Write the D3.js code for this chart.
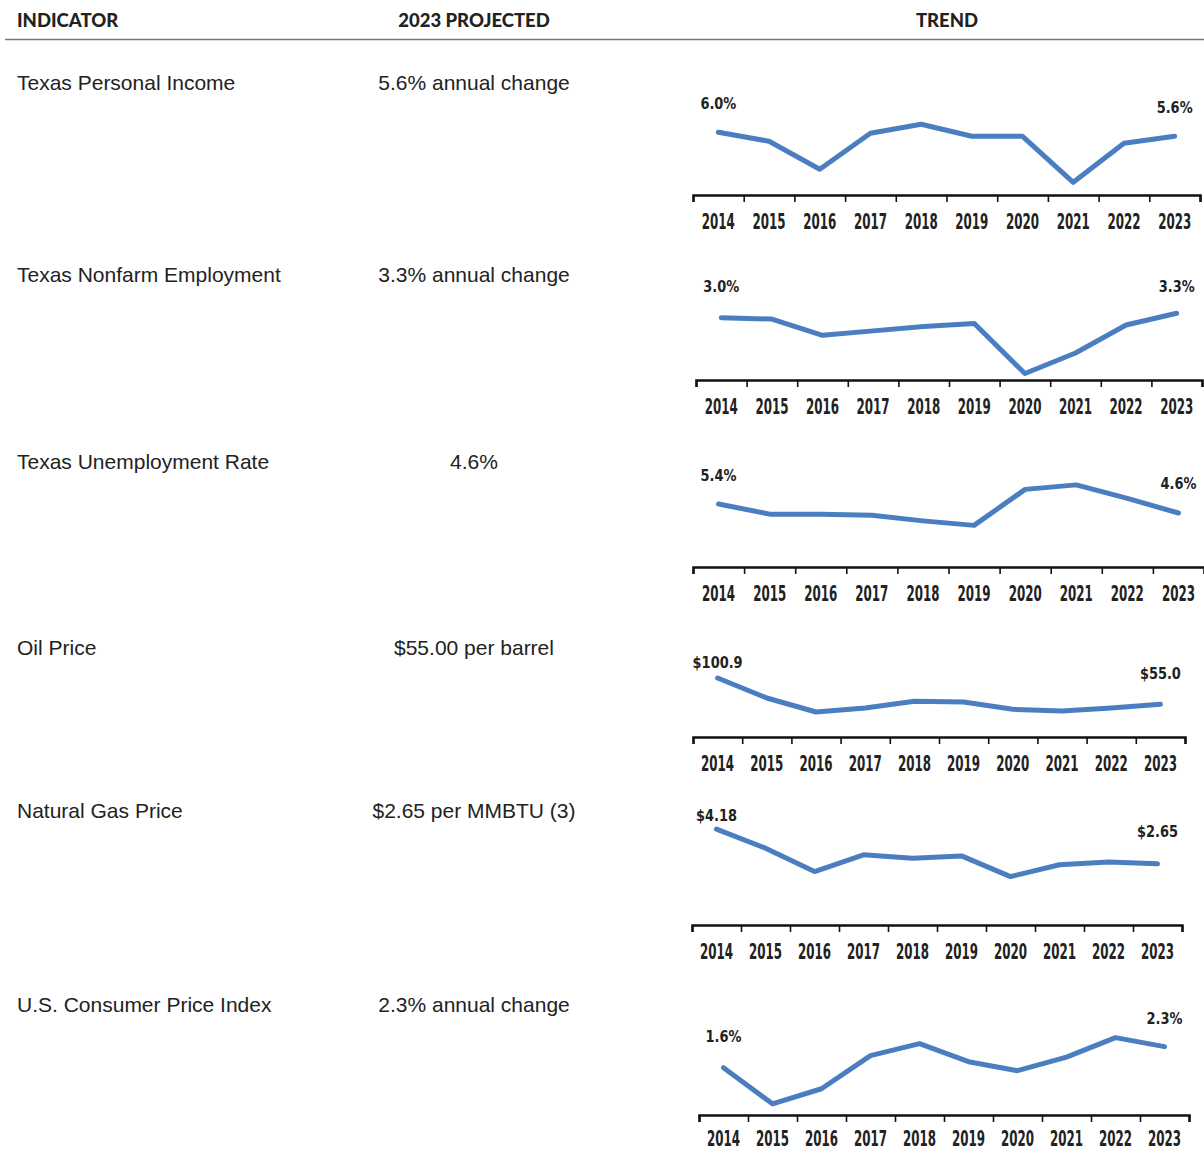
<!DOCTYPE html>
<html>
<head>
<meta charset="utf-8">
<script src="https://cdn.jsdelivr.net/npm/d3@7"></script>
<style>
  html, body { margin: 0; padding: 0; background: #fff; }
  .head { font-family: Lato, "Open Sans", sans-serif; font-weight: 900; font-size: 18.5px; fill: #222; }
  .row-label { font-family: "Liberation Sans", Arial, sans-serif; font-size: 21px; fill: #222; }
  .spark-axis text { font-family: "DejaVu Sans Condensed", "DejaVu Sans", sans-serif; font-weight: 700; font-size: 22px; fill: #222; }
  .spark-value text { font-family: "DejaVu Sans Condensed", "DejaVu Sans", sans-serif; font-weight: 700; font-size: 16px; fill: #222; }
</style>
</head>
<body>
<div id="chart"></div>
<script>
const years = ["2014", "2015", "2016", "2017", "2018", "2019", "2020", "2021", "2022", "2023"];

const indicators = [
  "Texas Personal Income",
  "Texas Nonfarm Employment",
  "Texas Unemployment Rate",
  "Oil Price",
  "Natural Gas Price",
  "U.S. Consumer Price Index"
];

const projected = [
  "5.6% annual change",
  "3.3% annual change",
  "4.6%",
  "$55.00 per barrel",
  "$2.65 per MMBTU (3)",
  "2.3% annual change"
];

// yearly series, 2014-2023
const personalIncome = [6.0, 5.1, 2.3, 5.9, 6.8, 5.6, 5.6, 1.0, 4.9, 5.6];
const nonfarmEmployment = [3.0, 2.9, 1.8, 2.1, 2.4, 2.6, -0.8, 0.6, 2.5, 3.3];
const unemploymentRate = [5.4, 4.5, 4.5, 4.4, 3.9, 3.5, 6.7, 7.1, 5.9, 4.6];
const oilPrice = [100.9, 66.0, 41.6, 48.5, 60.2, 59.0, 46.3, 43.3, 48.5, 55.0];
const gasPrice = [4.18, 3.34, 2.31, 3.05, 2.90, 3.00, 2.09, 2.61, 2.73, 2.65];
const consumerPrices = [1.6, 0.4, 0.9, 2.0, 2.4, 1.8, 1.5, 1.95, 2.6, 2.3];

const seriesList = [personalIncome, nonfarmEmployment, unemploymentRate, oilPrice, gasPrice, consumerPrices];

const pct = d => d.toFixed(1) + "%";
const formats = [pct, pct, pct, d => "$" + d.toFixed(1), d => "$" + d.toFixed(2), pct];

// layout of each row: text baseline, axis position, x extent, y domain,
// gap under the axis for the years, lift of the end labels
const rows = [
  { textY: 90,   axisY: 195,  x0: 693, x1: 1200, yDomain: [0.73, 8.73],  pad: 18, lift: [29, 29] },
  { textY: 282,  axisY: 380,  x0: 696, x1: 1202, yDomain: [-0.56, 4.88], pad: 18, lift: [31, 27] },
  { textY: 469,  axisY: 567,  x0: 693, x1: 1204, yDomain: [0.69, 7.80],  pad: 18, lift: [29, 30] },
  { textY: 655,  axisY: 737,  x0: 693, x1: 1185, yDomain: [15.4, 155.0], pad: 18, lift: [16, 31] },
  { textY: 818,  axisY: 925,  x0: 692, x1: 1182, yDomain: [0.40, 3.92],  pad: 18, lift: [14, 32] },
  { textY: 1012, axisY: 1115, x0: 699, x1: 1189, yDomain: [0.36, 3.02],  pad: 15, lift: [31, 28] }
];

const width = 1204, height = 1150;
const lineColor = "#4a7ec1";

const svg = d3.select("#chart").append("svg")
  .attr("width", width)
  .attr("height", height)
  .style("display", "block");

svg.append("rect").attr("width", width).attr("height", height).attr("fill", "#fff");

// column headers
svg.append("text").attr("class", "head").attr("x", 17).attr("y", 27).text("INDICATOR");
svg.append("text").attr("class", "head").attr("x", 474).attr("y", 27).attr("text-anchor", "middle").text("2023 PROJECTED");
svg.append("text").attr("class", "head").attr("x", 947).attr("y", 27).attr("text-anchor", "middle").text("TREND");
svg.append("line")
  .attr("x1", 5).attr("x2", width)
  .attr("y1", 39.5).attr("y2", 39.5)
  .attr("stroke", "#777").attr("stroke-width", 1.5);

rows.forEach((row, i) => {
  const values = seriesList[i];
  const fmt = formats[i];

  svg.append("text").attr("class", "row-label")
    .attr("x", 17).attr("y", row.textY)
    .text(indicators[i]);

  svg.append("text").attr("class", "row-label")
    .attr("x", 474).attr("y", row.textY)
    .attr("text-anchor", "middle")
    .text(projected[i]);

  const x = d3.scaleBand().domain(years).range([row.x0, row.x1]);
  const edges = d3.scaleLinear().domain([0, years.length]).range([row.x0, row.x1]);
  const y = d3.scaleLinear().domain(row.yDomain).range([row.axisY - 10, row.axisY - 90]);
  const cx = d => x(d) + x.bandwidth() / 2;

  const g = svg.append("g").attr("class", "spark");

  // axis line with ticks at the year boundaries
  const tickAxis = g.append("g")
    .attr("transform", `translate(0,${row.axisY})`)
    .call(d3.axisBottom(edges)
      .tickValues(d3.range(0, years.length + 1))
      .tickSize(7)
      .tickSizeOuter(7)
      .tickFormat(""));
  tickAxis.select(".domain").attr("stroke", "#111").attr("stroke-width", 2.5);
  tickAxis.selectAll(".tick line").attr("stroke", "#111").attr("stroke-width", 1.6);

  // year labels centred in each band, squeezed to a narrow face
  const labelAxis = g.append("g")
    .attr("class", "spark-axis")
    .attr("transform", `translate(0,${row.axisY})`)
    .call(d3.axisBottom(x).tickSize(0).tickPadding(row.pad));
  labelAxis.select(".domain").remove();
  labelAxis.selectAll(".tick text").attr("transform", "scale(0.6,1)");

  const line = d3.line()
    .x((d, j) => cx(years[j]))
    .y(d => y(d));

  g.append("path")
    .datum(values)
    .attr("d", line)
    .attr("fill", "none")
    .attr("stroke", lineColor)
    .attr("stroke-width", 5)
    .attr("stroke-linejoin", "round")
    .attr("stroke-linecap", "round");

  // first and last values
  const ends = [0, values.length - 1];
  g.selectAll(".spark-value")
    .data(ends)
    .join("g")
    .attr("class", "spark-value")
    .attr("transform", (j, k) => `translate(${cx(years[j])},${y(values[j]) - row.lift[k]})`)
    .append("text")
    .attr("transform", "scale(0.9,1)")
    .attr("dy", "0.35em")
    .attr("text-anchor", "middle")
    .text(j => fmt(values[j]));
});
</script>
</body>
</html>
